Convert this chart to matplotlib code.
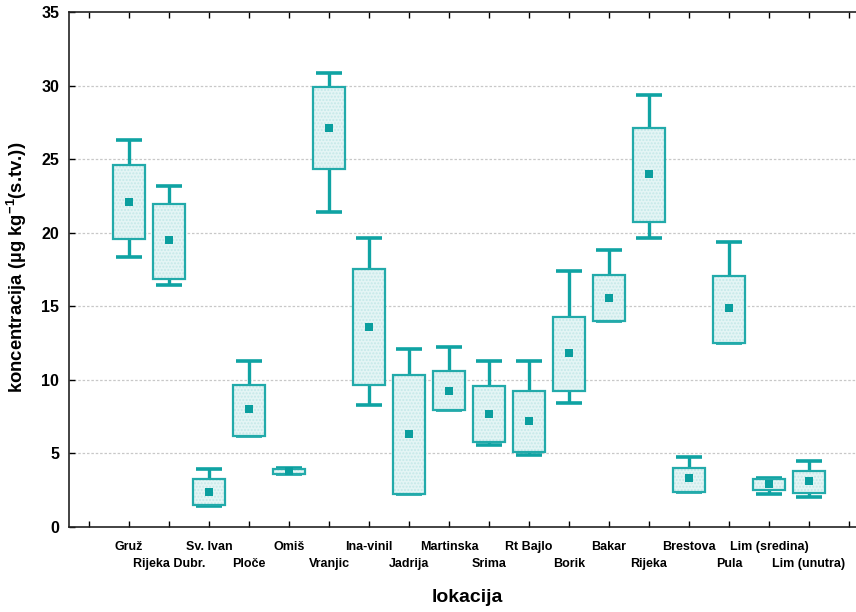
import numpy as np
import matplotlib
matplotlib.use("Agg")
import matplotlib.pyplot as plt
from matplotlib.ticker import FixedLocator, FixedFormatter

plt.rcParams['font.family'] = ['Liberation Sans', 'DejaVu Sans']
plt.rcParams['font.weight'] = 'bold'
plt.rcParams['mathtext.fontset'] = 'custom'
plt.rcParams['mathtext.rm'] = 'Liberation Sans:bold'
plt.rcParams['mathtext.it'] = 'Liberation Sans:bold'
plt.rcParams['mathtext.bf'] = 'Liberation Sans:bold'

locations = ["Gruž", "Rijeka Dubr.", "Sv. Ivan", "Ploče", "Omiš", "Vranjic",
             "Ina-vinil", "Jadrija", "Martinska", "Srima", "Rt Bajlo", "Borik",
             "Bakar", "Rijeka", "Brestova", "Pula", "Lim (sredina)", "Lim (unutra)"]

means    = [22.1, 19.5, 2.4, 8.0, 3.8, 27.1, 13.6, 6.35, 9.27, 7.7, 7.2, 11.85,
            15.55, 24.0, 3.3, 14.85, 2.9, 3.1]
box_lo   = [19.6, 16.85, 1.48, 6.2, 3.62, 24.3, 9.65, 2.24, 7.96, 5.75, 5.08, 9.23,
            13.97, 20.7, 2.38, 12.52, 2.5, 2.33]
box_hi   = [24.6, 21.97, 3.24, 9.66, 3.92, 29.9, 17.55, 10.34, 10.57, 9.57, 9.25, 14.29,
            17.14, 27.1, 4.01, 17.07, 3.24, 3.83]
whisk_lo = [18.37, 16.48, 1.45, 6.2, 3.62, 21.41, 8.3, 2.24, 7.96, 5.6, 4.92, 8.41,
            13.97, 19.64, 2.38, 12.52, 2.24, 2.06]
whisk_hi = [26.3, 23.15, 3.93, 11.25, 3.98, 30.88, 19.66, 12.13, 12.22, 11.25, 11.31, 17.39,
            18.8, 29.39, 4.74, 19.37, 3.33, 4.51]

teal = '#0fa3a3'
box_edge = '#22aaaa'
box_fill = '#e4f5f5'
dot_col = '#c4e8e8'

fig = plt.figure(figsize=(8.56, 6.12), dpi=100)
ax = fig.add_axes([69/856, 1 - 527/612, 1 - 69/856, (527 - 12)/612])

x = np.arange(1, len(locations) + 1)
lo = np.array(box_lo)
hi = np.array(box_hi)

# whiskers and caps
ax.vlines(x, whisk_lo, lo, color=teal, lw=2.4, zorder=2)
ax.vlines(x, hi, whisk_hi, color=teal, lw=2.4, zorder=2)
ax.hlines(whisk_lo, x - 0.32, x + 0.32, color=teal, lw=2.6, zorder=2)
ax.hlines(whisk_hi, x - 0.32, x + 0.32, color=teal, lw=2.6, zorder=2)

# boxes: dotted fill, then outline
ax.bar(x, hi - lo, bottom=lo, width=0.8, color=box_fill, edgecolor=dot_col,
       hatch='.....', linewidth=0, zorder=3)
ax.bar(x, hi - lo, bottom=lo, width=0.8, fill=False, edgecolor=box_edge,
       linewidth=1.6, zorder=4)

# means
ax.scatter(x, means, marker='s', s=40, color='#0a9e9e', zorder=5, linewidths=0)

ax.set_xlim(-0.5, 19.175)
ax.set_ylim(0, 35)
ax.set_yticks(np.arange(0, 36, 5))

# two staggered rows of location names: major ticks carry the first row,
# label-only minor ticks carry the second row
ax.xaxis.remove_overlapping_locs = False
ax.set_xticks(np.arange(0, 20))
major_labels = [''] * 20
for i in range(0, len(locations), 2):
    major_labels[i + 1] = locations[i]
ax.set_xticklabels(major_labels, fontsize=9, fontweight='bold')
ax.xaxis.set_minor_locator(FixedLocator(x[1::2]))
ax.xaxis.set_minor_formatter(FixedFormatter(locations[1::2]))
for lab in ax.get_xticklabels(minor=True):
    lab.set_fontsize(9)
    lab.set_fontweight('bold')

ax.tick_params(axis='x', which='major', direction='in', length=4, width=1,
               top=True, pad=10)
ax.tick_params(axis='x', which='minor', length=0, top=False, pad=22, labelsize=9)
ax.tick_params(axis='y', direction='in', length=4, width=1, labelsize=11.5, pad=7)
for lab in ax.get_yticklabels():
    lab.set_fontweight('bold')

for y in range(5, 35, 5):
    ax.axhline(y, color='#c8c8c8', lw=0.9, ls=(0, (2, 1.5)), zorder=1)

ax.spines['right'].set_visible(False)
for s in ['left', 'bottom', 'top']:
    ax.spines[s].set_linewidth(1.2)
    ax.spines[s].set_color('#222222')

ax.set_xlabel('lokacija', fontsize=14, fontweight='bold')
ax.set_ylabel(r'koncentracija (µg kg$^{-1}$(s.tv.))', fontsize=13.3,
              fontweight='bold')
ax.xaxis.set_label_coords((467 - 69) / (856 - 69), -(589 - 527) / 515)
ax.yaxis.set_label_coords(-(69 - 29) / (856 - 69), (527 - 267) / 515)

fig.savefig('out.png', dpi=100)
